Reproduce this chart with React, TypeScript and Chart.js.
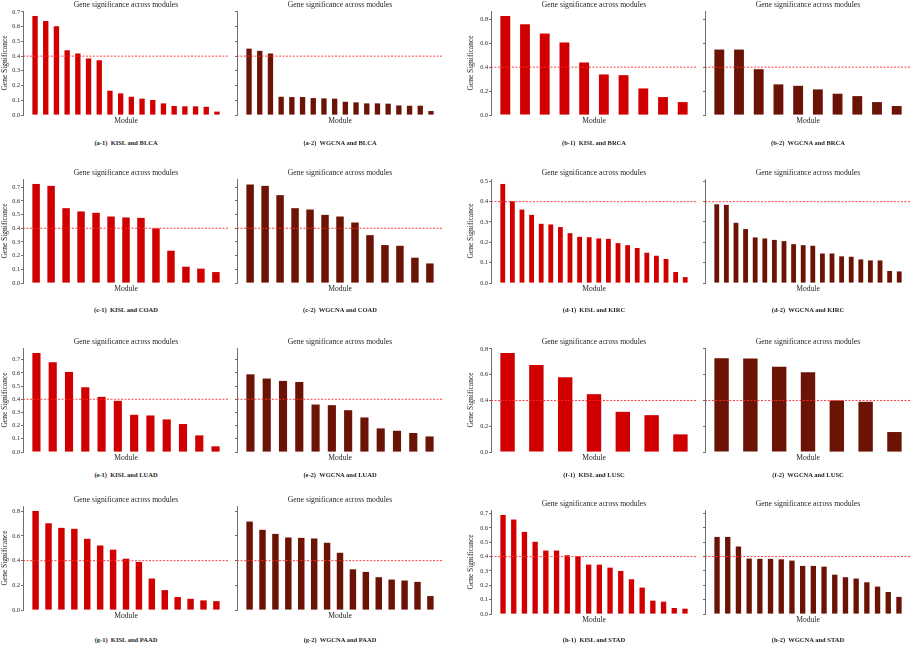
import { useEffect, useRef } from "react";
import { Chart, registerables } from "chart.js";

Chart.register(...registerables);

const SERIF = '"Liberation Serif", "DejaVu Serif", serif';
const KISL_RED = "#d10000";
const WGCNA_BROWN = "#6b1406";
const AXIS_GREY = "#4a4a4a";
const TEXT = "#1e1e1e";
const THRESHOLD = 0.4;

// tick labels
const ticksTenth7 = [0, 0.1, 0.2, 0.3, 0.4, 0.5, 0.6, 0.7];
const ticksTenth5 = [0, 0.1, 0.2, 0.3, 0.4, 0.5];
const ticksFifth8 = [0, 0.2, 0.4, 0.6, 0.8];

// gene significance per module (sorted), KISL vs WGCNA
const kislBLCA = [0.673, 0.639, 0.603, 0.44, 0.418, 0.384, 0.372, 0.165, 0.147, 0.124, 0.111, 0.102, 0.079, 0.061, 0.059, 0.059, 0.056, 0.023];
const wgcnaBLCA = [0.451, 0.436, 0.418, 0.124, 0.122, 0.122, 0.115, 0.113, 0.111, 0.09, 0.086, 0.079, 0.079, 0.077, 0.065, 0.063, 0.063, 0.027];

const kislBRCA = [0.828, 0.758, 0.681, 0.606, 0.439, 0.339, 0.333, 0.222, 0.15, 0.108];
const wgcnaBRCA = [0.547, 0.547, 0.383, 0.256, 0.244, 0.214, 0.178, 0.158, 0.108, 0.075];

const kislCOAD = [0.724, 0.71, 0.547, 0.523, 0.513, 0.486, 0.479, 0.476, 0.399, 0.236, 0.119, 0.105, 0.08];
const wgcnaCOAD = [0.72, 0.71, 0.642, 0.547, 0.537, 0.498, 0.486, 0.442, 0.35, 0.277, 0.272, 0.185, 0.143];

const kislKIRC = [0.487, 0.402, 0.361, 0.335, 0.291, 0.288, 0.275, 0.245, 0.227, 0.225, 0.219, 0.217, 0.196, 0.186, 0.172, 0.149, 0.134, 0.118, 0.054, 0.029];
const wgcnaKIRC = [0.387, 0.384, 0.296, 0.265, 0.224, 0.219, 0.212, 0.206, 0.191, 0.186, 0.183, 0.145, 0.145, 0.131, 0.129, 0.116, 0.111, 0.111, 0.059, 0.057];

const kislLUAD = [0.751, 0.68, 0.607, 0.491, 0.418, 0.388, 0.282, 0.277, 0.247, 0.212, 0.126, 0.043];
const wgcnaLUAD = [0.589, 0.557, 0.539, 0.531, 0.36, 0.355, 0.317, 0.262, 0.179, 0.161, 0.144, 0.118];

const kislLUSC = [0.769, 0.676, 0.581, 0.449, 0.312, 0.286, 0.137];
const wgcnaLUSC = [0.728, 0.725, 0.661, 0.619, 0.4, 0.39, 0.155];

const kislPAAD = [0.803, 0.703, 0.666, 0.658, 0.577, 0.523, 0.489, 0.416, 0.389, 0.255, 0.161, 0.105, 0.091, 0.078, 0.072];
const wgcnaPAAD = [0.717, 0.65, 0.617, 0.588, 0.585, 0.58, 0.545, 0.464, 0.33, 0.309, 0.266, 0.247, 0.239, 0.228, 0.113];

const kislSTAD = [0.69, 0.658, 0.572, 0.503, 0.442, 0.442, 0.409, 0.402, 0.344, 0.344, 0.323, 0.3, 0.242, 0.184, 0.093, 0.086, 0.042, 0.037];
const wgcnaSTAD = [0.537, 0.537, 0.47, 0.386, 0.384, 0.384, 0.381, 0.372, 0.335, 0.335, 0.33, 0.274, 0.256, 0.247, 0.221, 0.191, 0.153, 0.119];

// panel geometry (px)
const AXW = 25;
const TITLEH = 11;
const XH = 11;
const PLOT_W = 206;
const PLOT_H = 104;
const PANEL_GAP = 214;

const thresholdLine = {
  id: "thresholdLine",
  afterDatasetsDraw(chart: Chart) {
    const { ctx, chartArea, scales } = chart;
    const y = scales.y.getPixelForValue(THRESHOLD);
    ctx.save();
    ctx.strokeStyle = "#ff2a2a";
    ctx.lineWidth = 0.9;
    ctx.setLineDash([2, 1.5]);
    ctx.beginPath();
    ctx.moveTo(chartArea.left, y);
    ctx.lineTo(chartArea.right, y);
    ctx.stroke();
    ctx.restore();
  },
};

type PanelProps = {
  values: number[];
  color: string;
  yMax: number;
  ticks: number[];
  left: number;
  top: number;
  labels: boolean;
  yTitlePad: number;
};

const Panel = ({ values, color, yMax, ticks, left, top, labels, yTitlePad }: PanelProps) => {
  const chartRef = useRef<HTMLCanvasElement | null>(null);

  useEffect(() => {
    if (!chartRef.current) return;
    const n = values.length;
    const margin = 0.05 * (n - 0.5); // 5% side margins like the source plot

    const chart = new Chart(chartRef.current, {
      type: "bar",
      data: {
        datasets: [
          {
            data: values.map((v, i) => ({ x: i + 1, y: v })),
            backgroundColor: color,
            borderWidth: 0,
            barPercentage: 0.5,
            categoryPercentage: 1,
          },
        ],
      },
      options: {
        animation: false,
        responsive: true,
        maintainAspectRatio: false,
        layout: { padding: 0 },
        plugins: {
          legend: { display: false },
          tooltip: { enabled: false },
          title: {
            display: true,
            text: "Gene significance across modules",
            fullSize: false,
            color: TEXT,
            font: { family: SERIF, size: 7.7, weight: "normal" },
            padding: { top: 0, bottom: 1.76 },
          },
        },
        scales: {
          x: {
            type: "linear",
            min: 0.75 - margin,
            max: n + 0.25 + margin,
            offset: false,
            border: { display: false },
            grid: { display: false },
            ticks: { display: false },
            title: {
              display: true,
              text: "Module",
              color: TEXT,
              font: { family: SERIF, size: 7.6 },
              padding: { top: 0, bottom: 0.5 },
            },
            afterFit: (s) => {
              s.height = XH;
            },
          },
          y: {
            min: 0,
            max: yMax,
            afterBuildTicks: (s) => {
              s.ticks = ticks.map((v) => ({ value: v }));
            },
            afterFit: (s) => {
              s.width = AXW;
            },
            border: { display: true, color: AXIS_GREY, width: 0.8 },
            grid: {
              display: true,
              drawOnChartArea: false,
              drawTicks: true,
              tickLength: 2,
              color: AXIS_GREY,
              lineWidth: 0.8,
            },
            ticks: {
              display: labels,
              padding: 1,
              color: TEXT,
              font: { family: SERIF, size: 6.2 },
              callback: (v) => Number(v).toFixed(1),
            },
            title: {
              display: labels,
              text: "Gene Significance",
              color: TEXT,
              font: { family: SERIF, size: 7.5 },
              padding: { top: yTitlePad, bottom: 0 },
            },
          },
        },
      },
      plugins: [thresholdLine],
    });

    return () => {
      chart.destroy();
    };
  }, [values, color, yMax, ticks, labels, yTitlePad]);

  return (
    <div
      style={{
        position: "absolute",
        left: left - AXW,
        top: top - TITLEH,
        width: AXW + PLOT_W,
        height: TITLEH + PLOT_H + XH,
      }}
    >
      <canvas ref={chartRef} />
    </div>
  );
};

const Caption = ({ text, centerX, centerY }: { text: string; centerX: number; centerY: number }) => (
  <div
    style={{
      position: "absolute",
      left: centerX - 90,
      top: centerY - 4,
      width: 180,
      textAlign: "center",
      fontFamily: SERIF,
      fontWeight: "bold",
      fontSize: 6.5,
      lineHeight: "8px",
      whiteSpace: "pre",
      color: TEXT,
    }}
  >
    {text}
  </div>
);

type PairProps = {
  tag: string;
  cancer: string;
  kisl: number[];
  wgcna: number[];
  ticks: number[];
  left: number;
  top: number;
  captionY: number;
  yTitlePad: number;
};

const Pair = ({ tag, cancer, kisl, wgcna, ticks, left, top, captionY, yTitlePad }: PairProps) => {
  const yMax = Math.max(...kisl, ...wgcna) * 1.05;
  const right = left + PANEL_GAP;
  return (
    <>
      <Panel values={kisl} color={KISL_RED} yMax={yMax} ticks={ticks} left={left} top={top} labels yTitlePad={yTitlePad} />
      <Panel values={wgcna} color={WGCNA_BROWN} yMax={yMax} ticks={ticks} left={right} top={top} labels={false} yTitlePad={0} />
      <Caption text={`(${tag}-1)  KISL and ${cancer}`} centerX={left + PLOT_W / 2} centerY={captionY} />
      <Caption text={`(${tag}-2)  WGCNA and ${cancer}`} centerX={right + PLOT_W / 2} centerY={captionY} />
    </>
  );
};

export default function App() {
  return (
    <div
      style={{
        position: "absolute",
        left: 0,
        top: 0,
        width: 913,
        height: 647,
        overflow: "hidden",
        background: "#ffffff",
      }}
    >
      <Pair tag="a" cancer="BLCA" kisl={kislBLCA} wgcna={wgcnaBLCA} ticks={ticksTenth7} left={23} top={11} captionY={143} yTitlePad={3} />
      <Pair tag="b" cancer="BRCA" kisl={kislBRCA} wgcna={wgcnaBRCA} ticks={ticksFifth8} left={491} top={11} captionY={143} yTitlePad={1} />
      <Pair tag="c" cancer="COAD" kisl={kislCOAD} wgcna={wgcnaCOAD} ticks={ticksTenth7} left={23} top={179} captionY={310} yTitlePad={3} />
      <Pair tag="d" cancer="KIRC" kisl={kislKIRC} wgcna={wgcnaKIRC} ticks={ticksTenth5} left={491} top={179} captionY={310} yTitlePad={1} />
      <Pair tag="e" cancer="LUAD" kisl={kislLUAD} wgcna={wgcnaLUAD} ticks={ticksTenth7} left={23} top={348} captionY={475} yTitlePad={3} />
      <Pair tag="f" cancer="LUSC" kisl={kislLUSC} wgcna={wgcnaLUSC} ticks={ticksFifth8} left={491} top={348} captionY={475} yTitlePad={1} />
      <Pair tag="g" cancer="PAAD" kisl={kislPAAD} wgcna={wgcnaPAAD} ticks={ticksFifth8} left={23} top={506} captionY={640} yTitlePad={3} />
      <Pair tag="h" cancer="STAD" kisl={kislSTAD} wgcna={wgcnaSTAD} ticks={ticksTenth7} left={491} top={510} captionY={640} yTitlePad={1} />
    </div>
  );
}
